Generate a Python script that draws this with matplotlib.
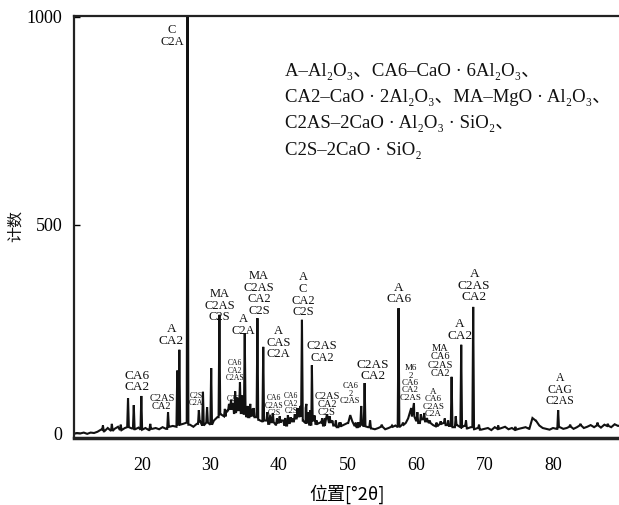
import numpy as np
import matplotlib
matplotlib.use("Agg")
import matplotlib.pyplot as plt

plt.rcParams['font.family'] = ['Liberation Serif', 'DejaVu Serif', 'Noto Sans CJK SC']

# ---------------- data ----------------
# baseline (counts) sampled every 0.5 degree from 10 to 90
base_theta = np.arange(10, 90.01, 0.5)
base_counts = [
    -2, 0, -1, 1, -2, 1, 0, 3,          # 10-13.5
    8, 4, 12, 5, 10, 15, 7, 12,         # 14-17.5
    14, 11, 9, 13, 8, 12, 7, 10,        # 18-21.5
    12, 9, 14, 10, 15, 17, 15, 20,      # 22-25.5
    22, 25, 20, 15, 22, 28, 18, 25,     # 26-29.5
    20, 30, 38, 45, 40, 55, 58, 48,     # 30-33.5
    55, 48, 45, 38, 42, 38, 32, 28,     # 34-37.5
    30, 22, 26, 20, 25, 30, 18, 24,     # 38-41.5
    28, 35, 40, 30, 25, 20, 30, 22,     # 42-45.5
    25, 18, 30, 26, 18, 14, 17, 20,     # 46-49.5
    24, 28, 18, 14, 20, 16, 14, 11,     # 50-53.5
    9, 12, 15, 9, 12, 15, 18, 14,       # 54-57.5
    20, 24, 35, 40, 30, 24, 33, 28,     # 58-61.5
    24, 19, 16, 22, 24, 19, 17, 14,     # 62-65.5
    19, 14, 17, 11, 14, 9, 12, 8,       # 66-69.5
    10, 12, 7, 14, 10, 12, 15, 9,       # 70-73.5
    12, 8, 10, 12, 14, 10, 22, 30,      # 74-77.5
    18, 12, 10, 8, 12, 10, 14, 10,      # 78-81.5
    12, 15, 10, 14, 18, 12, 15, 19,     # 82-85.5
    14, 18, 13, 20, 17, 14, 21, 17,     # 86-89.5
    19,                                 # 90
]

# diffraction peaks: position (deg 2theta), apex counts
peak_pos = [14.3, 15.6, 16.9, 17.96, 18.8, 19.9, 21.2, 23.8, 25.15, 25.45,
            26.65, 28.3, 28.9, 29.5, 30.1, 31.3, 32.1, 32.4, 32.7, 33.0,
            33.3, 33.6, 33.9, 34.3, 34.6, 35.0, 35.4, 35.8, 36.0, 36.3,
            36.85, 37.7, 38.3, 38.7, 39.1, 39.7, 40.1, 40.5, 40.9, 41.3,
            41.7, 42.0, 42.3, 42.7, 43.1, 43.35, 43.9, 44.0, 44.3, 44.6,
            44.8, 45.2, 45.5, 46.3, 46.7, 47.0, 47.4, 47.8, 48.3, 48.8,
            49.0, 50.4, 51.2, 51.6, 52.0, 52.5, 53.3, 55.0, 56.5, 57.45,
            58.1, 59.3, 59.7, 60.2, 60.7, 61.2, 61.6, 62.0, 63.0, 63.6,
            64.2, 64.7, 65.2, 65.8, 66.6, 67.3, 68.35, 69.2, 72.0, 74.5,
            77.0, 80.75, 82.5, 84.0, 86.5, 88.0]
peak_counts = [18, 22, 20, 84, 67, 89, 22, 50, 150, 200,
               1020, 55, 99, 62, 156, 284, 58, 50, 70, 80,
               72, 100, 85, 122, 90, 240, 65, 70, 58, 60,
               276, 207, 50, 42, 48, 35, 40, 30, 36, 43,
               38, 35, 45, 60, 65, 272, 60, 70, 50, 55,
               163, 42, 30, 35, 36, 45, 40, 30, 30, 25,
               25, 43, 25, 26, 65, 120, 30, 20, 18, 300,
               25, 60, 72, 50, 45, 48, 36, 30, 25, 28,
               35, 30, 135, 40, 212, 30, 303, 20, 18, 15,
               36, 55, 20, 22, 25, 22]
broad_peaks = {59.3: 0.45, 77.0: 0.45, 47.0: 0.3, 50.4: 0.3, 59.7: 0.3}
peak_halfwidth = [broad_peaks.get(p, 0.12) for p in peak_pos]

# phase labels: text, x (deg), y bottom (counts), size
labels = [
    ("C\nC2A", 24.4, 925, 9),
    ("CA6\nCA2", 19.3, 96, 9.5),
    ("C2AS\nCA2", 22.9, 53, 7.5),
    ("A\nCA2", 24.3, 207, 9.5),
    ("C2S\nC2A", 27.9, 62, 5.5),
    ("MA\nC2AS\nC2S", 31.3, 264, 9),
    ("CA6\nCA2\nC2AS", 33.6, 122, 5.5),
    ("C2S", 33.3, 72, 5.5),
    ("A\nC2A", 34.8, 231, 9),
    ("MA\nC2AS\nCA2\nC2S", 37.1, 279, 9),
    ("A\nCAS\nC2A", 39.9, 175, 9),
    ("CA6\nC2AS\nC2S", 39.3, 38, 5.5),
    ("CA6\nCA2\nC2S", 41.8, 43, 5.5),
    ("A\nC\nCA2\nC2S", 43.5, 276, 9),
    ("C2AS\nCA2", 46.3, 166, 9),
    ("C2AS\nCA2\nC2S", 47.0, 38, 7.5),
    ("CA6\n2\nC2AS", 50.4, 67, 6),
    ("C2AS\nCA2", 53.7, 122, 9.5),
    ("A\nCA6", 57.5, 307, 9.5),
    ("M6\n2\nCA6\nCA2\nC2AS", 59.2, 75, 6.5),
    ("A\nCA6\nC2AS\nC2A", 62.5, 36, 6.5),
    ("MA\nCA6\nC2AS\nCA2", 63.5, 132, 7.5),
    ("A\nCA2", 66.4, 219, 9.5),
    ("A\nC2AS\nCA2", 68.5, 312, 9.5),
    ("A\nCAG\nC2AS", 81.0, 62, 8.5),
]

legend_lines = [
    "A–Al₂O₃、CA6–CaO · 6Al₂O₃、",
    "CA2–CaO · 2Al₂O₃、MA–MgO · Al₂O₃、",
    "C2AS–2CaO · Al₂O₃ · SiO₂、",
    "C2S–2CaO · SiO₂",
]

# ---------------- build polyline from data ----------------
bt = np.asarray(base_theta)
bc = np.asarray(base_counts, dtype=float)
pts = []
for x, y in zip(bt, bc):
    if any(abs(x - p) < w for p, w in zip(peak_pos, peak_halfwidth)):
        continue
    pts.append((x, y))
for p, h, w in zip(peak_pos, peak_counts, peak_halfwidth):
    il = int(np.argmin(np.abs(bt - (p - w))))
    ir = int(np.argmin(np.abs(bt - (p + w))))
    pts += [(p - w, bc[il]), (p, h), (p + w, bc[ir])]
pts.sort(key=lambda t: t[0])
xs = [t[0] for t in pts]
ys = [t[1] for t in pts]

# ---------------- figure ----------------
fig = plt.figure(figsize=(6.19, 5.05), dpi=100)
ax = fig.add_axes([73.5 / 619, 1 - 438 / 505, (621.5 - 73.5) / 619, (438 - 16) / 505])
ax.plot(xs, ys, color='#111111', lw=1.5, solid_joinstyle='miter')
ax.set_xlim(10, 90)
ax.set_ylim(-12, 1002)
ax.set_yticks([0, 500, 1000])
ax.set_xticks([20, 30, 40, 50, 60, 70, 80])
ax.tick_params(axis='y', direction='in', length=4, width=1, labelsize=13, pad=8)
ax.tick_params(axis='x', length=0, labelsize=13, pad=14)
for s in ax.spines.values():
    s.set_linewidth(1.6)
    s.set_color('#222222')
ax.spines['bottom'].set_linewidth(2.5)

fig.text(15 / 619, 1 - 226 / 505, '计数', family=['Noto Sans CJK SC'], fontsize=11.5,
         rotation=90, ha='center', va='center', color='#111111')
ax.set_xlabel('位置[°2θ]', family=['Noto Sans CJK SC', 'DejaVu Sans'], fontsize=13,
              labelpad=7)

for txt, x, y, fs in labels:
    ax.text(x, y, txt, ha='center', va='bottom', fontsize=fs,
            linespacing=0.95 if fs >= 8 else 0.9, color='#111111')

for i, line in enumerate(legend_lines):
    fig.text(285 / 619, 1 - (71 + 26.5 * i) / 505, line, fontsize=13.5,
             ha='left', va='center', color='#111111')

fig.savefig('out.png', dpi=100)
